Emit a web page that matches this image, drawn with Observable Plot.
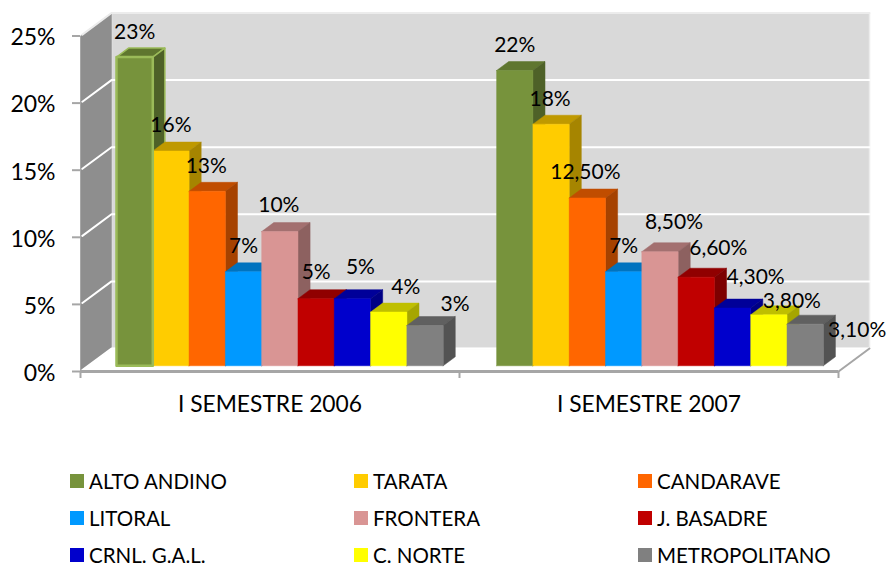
<!DOCTYPE html>
<html>
<head>
<meta charset="utf-8">
<script src="https://cdn.jsdelivr.net/npm/d3@7"></script>
<script src="https://cdn.jsdelivr.net/npm/@observablehq/plot@0.6"></script>
<style>
  html,body{margin:0;padding:0;background:#fff;}
  #root{position:relative;width:889px;height:566px;overflow:hidden;font-family:Lato,sans-serif;color:#000;}
  #root svg{display:block;}
  .sw{position:absolute;width:14px;height:14px;}
  .lb{position:absolute;font-size:20.5px;line-height:18px;white-space:nowrap;}
</style>
</head>
<body>
<div id="root"></div>
<script>
// ---- data ----
const series = ["ALTO ANDINO","TARATA","CANDARAVE","LITORAL","FRONTERA","J. BASADRE","CRNL. G.A.L.","C. NORTE","METROPOLITANO"];
const semesters = ["I SEMESTRE 2006","I SEMESTRE 2007"];
const values2006 = [23,16,13,7,10,5,5,4,3];
const values2007 = [22,18,12.5,7,8.5,6.6,4.3,3.8,3.1];
const labels2006 = ["23%","16%","13%","7%","10%","5%","5%","4%","3%"];
const labels2007 = ["22%","18%","12,50%","7%","8,50%","6,60%","4,30%","3,80%","3,10%"];
const yTicks = [0,5,10,15,20,25];

// ---- styles ----
const frontColors = ["#77933c","#ffcc00","#ff6600","#0099ff","#d99594","#c00000","#0000cc","#ffff00","#808080"];
const topColors   = ["#5f762f","#bf9900","#c04d00","#0073bf","#a37070","#900000","#000099","#bfbf00","#606060"];
const sideColors  = ["#4e6128","#a68500","#a64200","#0063a6","#8d6160","#7d0000","#000085","#a6a600","#535353"];

// ---- layout (pixels per data unit, oblique projection) ----
const pxX = 36.3, pxY = 13.42;
const axisX0 = 80, axisY0 = 371, W = 889, H = 426;
const xEnd = (838 - axisX0) / pxX;
const depthX = 31 / pxX, depthY = 23 / pxY;
const barD0 = 0.25, barD1 = 0.64;
const groupStart = [0.778, 11.25];
const P = (x, v, d = 0) => ({x: x + depthX * d, y: v + depthY * d});

// hand-placed label nudges [px right, px up], from bar-top centre
const nudge2006 = [[0,25],[0,26],[-1,25],[0,26],[-1,26],[0,26],[8,31],[17,25],[30,21]];
const nudge2007 = [[0,25],[-1,25],[-2,26],[0,26],[14,29],[22,29],[23,31],[23,13],[52,-6]];

// ---- derived polygons ----
const faces = [];
function addFace(id, pts, fill, stroke, sw) {
  pts.forEach(p => faces.push({id, ...p, fill, stroke, sw}));
}
const groups = [
  {vals: values2006, labs: labels2006, nudge: nudge2006, start: groupStart[0]},
  {vals: values2007, labs: labels2007, nudge: nudge2007, start: groupStart[1]}
];
const labelRows = [];
groups.forEach((g, gi) => g.vals.forEach((v, i) => {
  const a = g.start + i, b = a + 1, id = `${gi}-${i}`;
  const hi = gi === 0 && i === 0;
  const edge = hi ? "#9bbb59" : null;
  addFace(id+"t",[P(a,v,barD0),P(b,v,barD0),P(b,v,barD1),P(a,v,barD1),P(a,v,barD0)],topColors[i],edge||topColors[i],hi?1.5:0.5);
  addFace(id+"s",[P(b,0,barD0),P(b,v,barD0),P(b,v,barD1),P(b,0,barD1),P(b,0,barD0)],sideColors[i],edge||sideColors[i],hi?1.5:0.5);
  addFace(id+"f",[P(a,0,barD0),P(b,0,barD0),P(b,v,barD0),P(a,v,barD0),P(a,0,barD0)],frontColors[i],frontColors[i],0.5);
  const c = P(a + 0.5, v, barD0);
  labelRows.push({x: c.x + g.nudge[i][0]/pxX, y: c.y + g.nudge[i][1]/pxY, text: g.labs[i]});
}));
const firstFront = [P(groupStart[0],0,barD0),P(groupStart[0]+1,0,barD0),P(groupStart[0]+1,23,barD0),P(groupStart[0],23,barD0),P(groupStart[0],0,barD0)];

const wallLeft = [P(0,0,0),P(0,0,1),P(0,25,1),P(0,25,0),P(0,0,0)];
const wallBack = [P(0,0,1),P(xEnd,0,1),P(xEnd,25,1),P(0,25,1),P(0,0,1)];
const floorPoly = [P(0,0,0),P(xEnd,0,0),P(xEnd,0,1),P(0,0,1),P(0,0,0)];
const gridRows = yTicks.flatMap(t => [P(0,t,0.06),P(0,t,1),P(xEnd,t,1)].map(p => ({...p, t})));

const fs = 21;
const chart = Plot.plot({
  width: W, height: H,
  marginLeft: axisX0, marginRight: 0, marginTop: 0, marginBottom: H - axisY0,
  x: {domain: [0, (W - axisX0) / pxX], range: [axisX0, W]},
  y: {domain: [0, axisY0 / pxY], range: [axisY0, 0]},
  color: {type: "identity"},
  style: {fontFamily: "Lato, sans-serif", background: "transparent", overflow: "visible"},
  marks: [
    Plot.line(floorPoly, {x:"x", y:"y", fill:"#ffffff", stroke:"#dcdcdc", strokeWidth:1}),
    Plot.line(wallBack, {x:"x", y:"y", fill:"#d9d9d9", stroke:"#ececec", strokeWidth:1.5}),
    Plot.line(wallLeft, {x:"x", y:"y", fill:"#8e8e8e", stroke:"#a6a6a6", strokeWidth:1}),
    Plot.line(gridRows, {x:"x", y:"y", z:"t", stroke:d => d.t === 25 ? "#ececec" : "#ffffff", strokeWidth:2}),
    Plot.line([P(xEnd,0,0),P(xEnd,0,1)], {x:"x", y:"y", stroke:"#a6a6a6", strokeWidth:2}),
    Plot.ruleY([0], {x1:0, x2:xEnd, stroke:"#a6a6a6", strokeWidth:3}),
    Plot.axisX({ticks:[0, xEnd/2, xEnd], tickFormat:() => "", tickSize:7, stroke:"#a6a6a6", strokeWidth:2, label:null}),
    Plot.axisY({ticks:yTicks, tickFormat:() => "", tickSize:8, stroke:"#a6a6a6", strokeWidth:2, label:null}),
    Plot.axisY({ticks:yTicks, tickFormat:d => d + "%", tickSize:0, tickPadding:25, dy:2, fontSize:fs+2, label:null, color:"#000"}),
    Plot.line(faces, {x:"x", y:"y", z:"id", fill:"fill", stroke:"stroke", strokeWidth:"sw"}),
    Plot.line(firstFront, {x:"x", y:"y", stroke:"#9bbb59", strokeWidth:2.5}),
    Plot.text(labelRows, {x:"x", y:"y", text:"text", fontSize:fs, fill:"#000"}),
    Plot.text(semesters, {x:(d,i) => xEnd * (i + 0.5) / 2, y:() => -33/pxY, text:d => d, fontSize:22.8, fill:"#000", clip:false})
  ]
});
const root = document.getElementById("root");
root.appendChild(chart);

// legend
const legendX = [70, 354, 638], legendY = [474, 511, 548], legendGap = 19;
series.forEach((s, i) => {
  const cx = legendX[i % 3], cy = legendY[Math.floor(i / 3)];
  const sw = document.createElement("div");
  sw.className = "sw";
  sw.style.cssText = `left:${cx}px;top:${cy}px;background:${frontColors[i]}`;
  const lb = document.createElement("div");
  lb.className = "lb";
  lb.textContent = s;
  lb.style.cssText = `left:${cx + legendGap}px;top:${cy - 2}px`;
  root.append(sw, lb);
});
</script>
</body>
</html>
